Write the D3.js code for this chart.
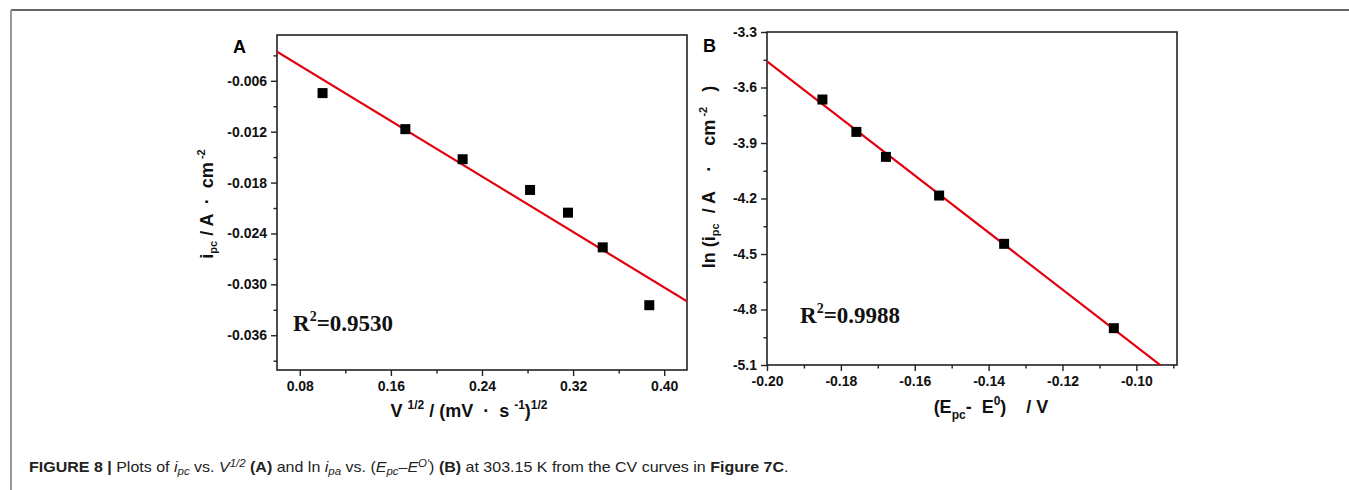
<!DOCTYPE html>
<html>
<head>
<meta charset="utf-8">
<script src="https://cdn.jsdelivr.net/npm/d3@7"></script>
<style>
  body { margin: 0; background: #fff; }
  svg text { white-space: pre; }
</style>
</head>
<body>
<div id="fig"></div>
<script>
// Panel A: peak current vs. square root of scan rate
const xA = [0.100, 0.1727, 0.2230, 0.2822, 0.3155, 0.3460, 0.3869];
const yA = [-0.00745, -0.0117, -0.01525, -0.01887, -0.02155, -0.02564, -0.03246];
const xTicksA = [0.08, 0.16, 0.24, 0.32, 0.40];
const yTicksA = [-0.006, -0.012, -0.018, -0.024, -0.030, -0.036];
const r2A = "0.9530";

// Panel B: ln(ipc) vs. (Epc - E0)
const xB = [-0.185, -0.1758, -0.1678, -0.1534, -0.1358, -0.1061];
const yB = [-3.665, -3.84, -3.975, -4.184, -4.445, -4.901];
const xTicksB = [-0.20, -0.18, -0.16, -0.14, -0.12, -0.10];
const yTicksB = [-3.3, -3.6, -3.9, -4.2, -4.5, -4.8, -5.1];
const r2B = "0.9988";

const width = 1349, height = 490;
const svg = d3.select("#fig").append("svg")
  .attr("width", width).attr("height", height);

// figure frame (top + left rule)
svg.append("line").attr("x1", 11).attr("x2", width).attr("y1", 10).attr("y2", 10)
  .attr("stroke", "#333").attr("stroke-width", 1.5);
svg.append("line").attr("x1", 11).attr("x2", 11).attr("y1", 10).attr("y2", height)
  .attr("stroke", "#999").attr("stroke-width", 2);

// simple least squares fit
function fit(xs, ys) {
  const mx = d3.mean(xs), my = d3.mean(ys);
  const sxy = d3.sum(xs, (x, i) => (x - mx) * (ys[i] - my));
  const sxx = d3.sum(xs, x => (x - mx) * (x - mx));
  const b = sxy / sxx;
  return x => my + b * (x - mx);
}

function minorBetween(ticks, step, domain) {
  const out = [];
  const lo = Math.min(...domain), hi = Math.max(...domain);
  ticks.forEach(t => {
    [t - step / 2, t + step / 2].forEach(v => {
      if (v >= lo - 1e-9 && v <= hi + 1e-9 && !out.some(o => Math.abs(o - v) < 1e-9)) out.push(v);
    });
  });
  return out;
}

// origin-style labels use a plain hyphen
const fmt = spec => d => d3.format(spec)(d).replace("\u2212", "-");

function panel(o) {
  const g = svg.append("g");
  const x = d3.scaleLinear().domain(o.xDomain).range([o.left, o.right]);
  const y = d3.scaleLinear().domain(o.yDomain).range([o.bottom, o.top]);

  const clipId = "clip" + o.id;
  svg.append("clipPath").attr("id", clipId).append("rect")
    .attr("x", o.left).attr("y", o.top)
    .attr("width", o.right - o.left).attr("height", o.bottom - o.top);

  // box
  g.append("rect").attr("x", o.left).attr("y", o.top)
    .attr("width", o.right - o.left).attr("height", o.bottom - o.top)
    .attr("fill", "none").attr("stroke", "#222").attr("stroke-width", 1.6);

  const tickFont = g => g.selectAll("text")
    .attr("font-family", "Liberation Sans, Arial, sans-serif")
    .attr("font-weight", "bold").attr("font-size", 14).attr("fill", "#111");

  const xAxis = g.append("g").attr("transform", `translate(0,${o.bottom})`)
    .call(d3.axisBottom(x).tickValues(o.xTicks).tickSize(6).tickPadding(5)
      .tickFormat(fmt(".2f")));
  xAxis.select(".domain").remove();
  xAxis.call(tickFont);
  xAxis.selectAll("line").attr("stroke", "#222").attr("stroke-width", 1.4);

  g.append("g").attr("transform", `translate(0,${o.bottom})`)
    .call(d3.axisBottom(x).tickValues(minorBetween(o.xTicks, o.xStep, o.xDomain))
      .tickSize(3.5).tickFormat(""))
    .call(a => a.select(".domain").remove())
    .selectAll("line").attr("stroke", "#222").attr("stroke-width", 1.4);

  const yAxis = g.append("g").attr("transform", `translate(${o.left},0)`)
    .call(d3.axisLeft(y).tickValues(o.yTicks).tickSize(6).tickPadding(4)
      .tickFormat(fmt(o.yFmt)));
  yAxis.select(".domain").remove();
  yAxis.call(tickFont);
  yAxis.selectAll("line").attr("stroke", "#222").attr("stroke-width", 1.4);

  g.append("g").attr("transform", `translate(${o.left},0)`)
    .call(d3.axisLeft(y).tickValues(minorBetween(o.yTicks, o.yStep, o.yDomain))
      .tickSize(3.5).tickFormat(""))
    .call(a => a.select(".domain").remove())
    .selectAll("line").attr("stroke", "#222").attr("stroke-width", 1.4);

  // fitted line
  const f = fit(o.xs, o.ys);
  g.append("line")
    .attr("clip-path", `url(#${clipId})`)
    .attr("x1", x(o.xDomain[0])).attr("y1", y(f(o.xDomain[0])))
    .attr("x2", x(o.xDomain[1])).attr("y2", y(f(o.xDomain[1])))
    .attr("stroke", "#e3000f").attr("stroke-width", 2.2);

  // points
  const s = 10;
  g.selectAll("rect.pt").data(o.xs).join("rect").attr("class", "pt")
    .attr("x", (d) => x(d) - s / 2)
    .attr("y", (d, i) => y(o.ys[i]) - s / 2)
    .attr("width", s).attr("height", s).attr("fill", "#000");

  // R^2 label
  const r = g.append("text")
    .attr("x", o.r2x).attr("y", o.r2y)
    .attr("font-family", "Liberation Serif, Times New Roman, serif")
    .attr("font-weight", "bold").attr("font-size", 23).attr("fill", "#111");
  r.append("tspan").text("R");
  r.append("tspan").attr("dy", -10).attr("font-size", 14).text("2");
  r.append("tspan").attr("dy", 10).text("=" + o.r2);

  // panel letter
  g.append("text").attr("x", o.letterX).attr("y", o.letterY)
    .attr("font-family", "Liberation Sans, Arial, sans-serif")
    .attr("font-weight", "bold").attr("font-size", 18).text(o.letter);

  return { x, y, g };
}

const A = panel({
  id: "A", left: 277, right: 687, top: 35, bottom: 370,
  xDomain: [0.06, 0.42], yDomain: [-0.0401, -0.0006],
  xTicks: xTicksA, yTicks: yTicksA, xStep: 0.08, yStep: 0.006, yFmt: ".3f",
  xs: xA, ys: yA, r2: r2A, r2x: 293, r2y: 331,
  letter: "A", letterX: 233, letterY: 53
});

const B = panel({
  id: "B", left: 767, right: 1177, top: 32, bottom: 365,
  xDomain: [-0.20, -0.089], yDomain: [-5.1, -3.3],
  xTicks: xTicksB, yTicks: yTicksB, xStep: 0.02, yStep: 0.3, yFmt: ".1f",
  xs: xB, ys: yB, r2: r2B, r2x: 800, r2y: 323,
  letter: "B", letterX: 703, letterY: 52
});

// axis titles
const titleFont = t => t.attr("font-family", "Liberation Sans, Arial, sans-serif")
  .attr("font-weight", "bold").attr("font-size", 18).attr("fill", "#111");

// A y title
const tAy = svg.append("text").call(titleFont)
  .attr("text-anchor", "middle")
  .attr("transform", "translate(213,204) rotate(-90)");
tAy.append("tspan").text("i");
tAy.append("tspan").attr("dy", 4).attr("font-size", 11).text("pc");
tAy.append("tspan").attr("dy", -4).text(" / A  ·  cm");
tAy.append("tspan").attr("dy", -8).attr("font-size", 11).text(" -2");

// A x title
const tAx = svg.append("text").call(titleFont)
  .attr("text-anchor", "middle").attr("x", 469).attr("y", 417);
tAx.append("tspan").text("V ");
tAx.append("tspan").attr("dy", -8).attr("font-size", 12).text("1/2");
tAx.append("tspan").attr("dy", 8).text(" / (mV  ·  s ");
tAx.append("tspan").attr("dy", -8).attr("font-size", 12).text("-1");
tAx.append("tspan").attr("dy", 8).text(")");
tAx.append("tspan").attr("dy", -8).attr("font-size", 12).text("1/2");

// B y title
const tBy = svg.append("text").call(titleFont)
  .attr("text-anchor", "middle")
  .attr("transform", "translate(715,177) rotate(-90)");
tBy.append("tspan").text("ln (i");
tBy.append("tspan").attr("dy", 4).attr("font-size", 11).text("pc");
tBy.append("tspan").attr("dy", -4).text("  / A    ·    cm");
tBy.append("tspan").attr("dy", -8).attr("font-size", 11).text(" -2");
tBy.append("tspan").attr("dy", 8).text("   )");

// B x title
const tBx = svg.append("text").call(titleFont)
  .attr("text-anchor", "middle").attr("x", 991).attr("y", 413);
tBx.append("tspan").text("(E");
tBx.append("tspan").attr("dy", 6).attr("font-size", 12).text("pc");
tBx.append("tspan").attr("dy", -6).text("-  E");
tBx.append("tspan").attr("dy", -8).attr("font-size", 12).text("0");
tBx.append("tspan").attr("dy", 8).text(")    / V");

// caption
const cap = svg.append("text").attr("x", 29).attr("y", 472)
  .attr("font-family", "Liberation Sans Narrow, Liberation Sans, Arial, sans-serif")
  .attr("font-size", 14).attr("fill", "#222");
const seg = (txt, style = {}) => {
  const t = cap.append("tspan").text(txt);
  if (style.b) t.attr("font-weight", "bold");
  if (style.i) t.attr("font-style", "italic");
  if (style.dy) t.attr("dy", style.dy);
  if (style.fs) t.attr("font-size", style.fs);
  return t;
};
seg("FIGURE 8 |", { b: true });
seg(" Plots of ");
seg("i", { i: true });
seg("pc", { i: true, dy: 3, fs: 10 });
seg(" vs. ", { dy: -3 });
seg("V", { i: true });
seg("1/2", { i: true, dy: -5, fs: 10 });
seg(" (A)", { b: true, dy: 5 });
seg(" and ln ");
seg("i", { i: true });
seg("pa", { i: true, dy: 3, fs: 10 });
seg(" vs. (", { dy: -3 });
seg("E", { i: true });
seg("pc", { i: true, dy: 3, fs: 10 });
seg("–", { dy: -3 });
seg("E", { i: true });
seg("O′", { i: true, dy: -5, fs: 10 });
seg(") ", { dy: 5 });
seg("(B)", { b: true });
seg(" at 303.15 K from the CV curves in ");
seg("Figure 7C", { b: true });
seg(".");

// fit the caption to its width in the reference
const capW = cap.node().getComputedTextLength();
const sx = 760 / capW;
cap.attr("transform", `translate(${29 * (1 - sx)},0) scale(${sx},1)`);
</script>
</body>
</html>
